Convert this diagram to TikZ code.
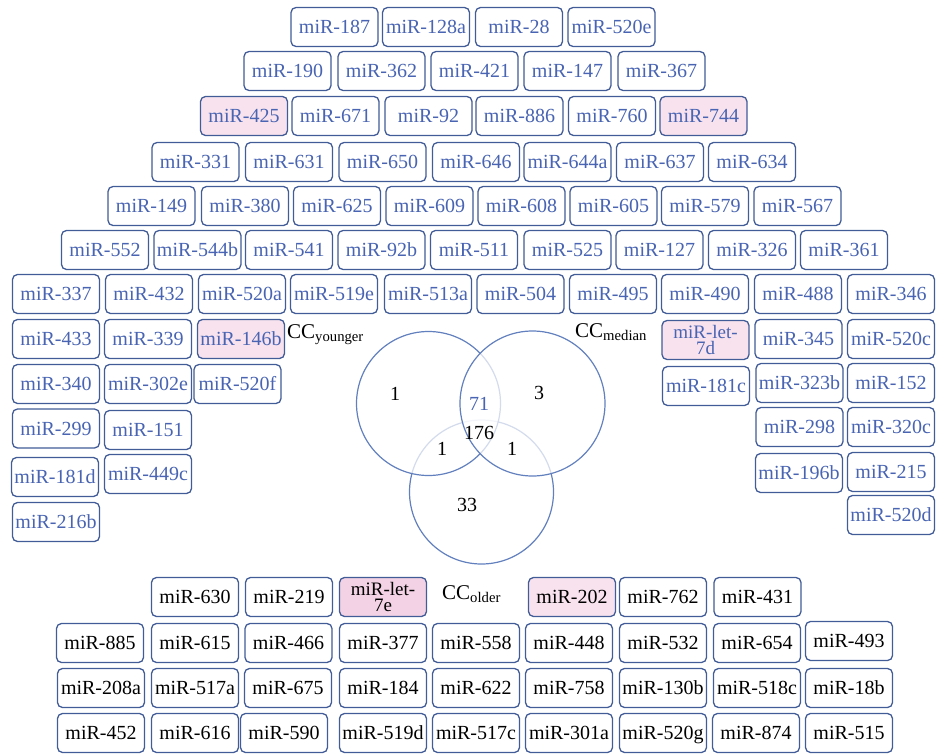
\documentclass[tikz,border=0pt]{standalone}
\usepackage{fontspec}
\setmainfont{Liberation Serif}
\definecolor{bordc}{RGB}{66,92,152}
\definecolor{txtb}{RGB}{72,100,178}
\definecolor{pinkl}{RGB}{247,226,238}
\definecolor{pinkd}{RGB}{242,210,228}
\definecolor{circc}{RGB}{98,128,190}
\tikzset{
  mbox/.style={draw=bordc, line width=1.3pt, rounded corners=5pt, minimum width=87pt, minimum height=39pt, inner sep=0pt, font=\fontsize{20}{16}\selectfont, text height=13.6pt, text depth=0pt},
  bluebox/.style={mbox, text=txtb, fill=white},
  blackbox/.style={mbox, text=black, fill=white},
  twoline/.style={draw=bordc, line width=1.3pt, rounded corners=5pt, minimum width=87pt, minimum height=39pt, inner sep=0pt, font=\fontsize{19}{16.5}\selectfont, align=center},
  vcirc/.style={draw=circc, line width=1.2pt, fill=white, fill opacity=0.72, draw opacity=1},
  num/.style={font=\fontsize{20}{22}\selectfont, inner sep=0pt, text height=13.6pt, text depth=0pt},
  cclabel/.style={font=\fontsize{21}{24}\selectfont, inner sep=0pt, anchor=base west},
}
\begin{document}
\begin{tikzpicture}[x=1pt,y=-1pt]
\useasboundingbox (0,0) rectangle (936,755);
% blue boxes
\foreach \n/\x/\y/\t in {
 a1/334.5/27/miR-187, a2/426/27/miR-128a, a3/519/27/miR-28, a4/611.5/27/miR-520e,
 b1/287.5/71/miR-190, b2/381.5/71/miR-362, b3/474.5/71/miR-421, b4/567.5/71/miR-147, b5/661.5/71/miR-367,
 c2/335.5/116/miR-671, c3/428.5/116/miR-92, c4/519.5/116/miR-886, c5/612/116/miR-760,
 d1/195.5/162/miR-331, d2/289/162/miR-631, d3/382.5/162/miR-650, d4/476/162/miR-646, d5/567.5/162/miR-644a, d6/660/162/miR-637, d7/752/162/miR-634,
 e1/151.5/206/miR-149, e2/245/206/miR-380, e3/337/206/miR-625, e4/429.5/206/miR-609, e5/521.5/206/miR-608, e6/613.5/206/miR-605, e7/705/206/miR-579, e8/797.5/206/miR-567,
 f1/105/250/miR-552, f2/197.5/250/miR-544b, f3/289/250/miR-541, f4/381.5/250/miR-92b, f5/474/250/miR-511, f6/567.5/250/miR-525, f7/659.5/250/miR-127, f8/752/250/miR-326, f9/844/250/miR-361,
 g1/56/294/miR-337, g2/149/294/miR-432, g3/242/294/miR-520a, g4/334/294/miR-519e, g5/428/294/miR-513a, g6/520.5/294/miR-504, g7/613/294/miR-495, g8/705/294/miR-490, g9/798/294/miR-488, g10/891/294/miR-346,
 h1/56/339/miR-433, h2/148/339/miR-339, h5/798.5/339/miR-345, h6/891/339/miR-520c,
 i1/56/384/miR-340, i2/148/384/miR-302e, i3/237.5/384/miR-520f, i4/706/386/miR-181c, i5/799.5/383/miR-323b, i6/891/383/miR-152,
 j1/56/428.5/miR-299, j2/148/430/miR-151, j3/799.5/427/miR-298, j4/891/427/miR-320c,
 k1/55/477/miR-181d, k2/148/474/miR-449c, k3/799/473/miR-196b, k4/891/472/miR-215,
 l1/56/522/miR-216b, l2/891/515/miR-520d}
 \node[bluebox] (\n) at (\x,\y) {\t};
\node[bluebox, fill=pinkl] (c1) at (244,116) {miR-425};
\node[bluebox, fill=pinkl] (c6) at (703.5,116) {miR-744};
\node[bluebox, fill=pinkl] (h3) at (241,339) {miR-146b};
\node[twoline, text=txtb, fill=pinkl] (h4) at (705.5,340) {miR-let-\\7d};
% black boxes
\foreach \n/\x/\y/\t in {
 p1/195/597/miR-630, p2/289/597/miR-219, p5/663/597/miR-762, p6/757.5/597/miR-431,
 q1/100/643/miR-885, q2/195/643/miR-615, q3/288.5/643/miR-466, q4/383/643/miR-377, q5/476/643/miR-558, q6/569/643/miR-448, q7/663/643/miR-532, q8/757/643/miR-654, q9/849/641/miR-493,
 r1/101/688/miR-208a, r2/195/688/miR-517a, r3/288/688/miR-675, r4/383/688/miR-184, r5/476/688/miR-622, r6/569/688/miR-758, r7/663/688/miR-130b, r8/757/688/miR-518c, r9/849/688/miR-18b,
 s1/101/733/miR-452, s2/195/733/miR-616, s3/284/733/miR-590, s4/383/733/miR-519d, s5/476/733/miR-517c, s6/569/733/miR-301a, s7/663/733/miR-520g, s8/756/733/miR-874, s9/849/733/miR-515}
 \node[blackbox] (\n) at (\x,\y) {\t};
\node[twoline, text=black, fill=pinkd] (p3) at (383,597) {miR-let-\\7e};
\node[blackbox, fill=pinkl] (p4) at (572,597) {miR-202};
% Venn circles
\draw[vcirc] (481.5,492) circle[radius=72];
\draw[vcirc] (428.5,403.5) circle[radius=72];
\draw[vcirc] (532.5,403.5) circle[radius=72.5];
% Venn numbers
\node[num] (n1) at (395,394) {1};
\node[num, text=txtb] (n71) at (479,404) {71};
\node[num] (n3) at (539,393) {3};
\node[num] (n176) at (479,433) {176};
\node[num] (n1b) at (442,449) {1};
\node[num] (n1c) at (512,449) {1};
\node[num] (n33) at (467,505) {33};
% labels
\node[cclabel] (ly) at (287,338) {CC\textsubscript{younger}};
\node[cclabel] (lm) at (575,337) {CC\textsubscript{median}};
\node[cclabel] (lo) at (442,599) {CC\textsubscript{older}};
\end{tikzpicture}
\end{document}
